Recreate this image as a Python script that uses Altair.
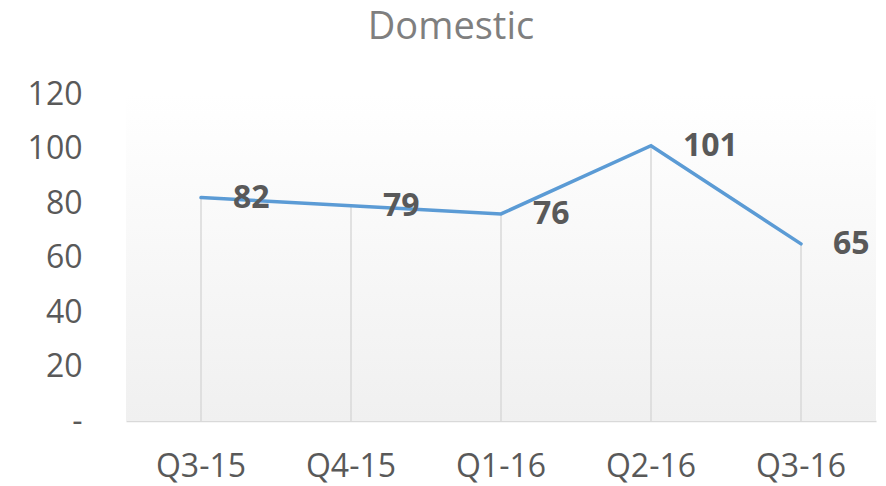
import altair as alt
import pandas as pd

quarters = ["Q3-15", "Q4-15", "Q1-16", "Q2-16", "Q3-16"]
values = [82, 79, 76, 101, 65]

df = pd.DataFrame({"quarter": quarters, "value": values})

FONT = "Open Sans"
x = alt.X("quarter:N", sort=quarters, title=None,
          scale=alt.Scale(paddingInner=0, paddingOuter=0),
          axis=alt.Axis(labelAngle=0, ticks=False, domainColor="#d9d9d9", domainWidth=1.5,
                        labelFont=FONT, labelFontSize=32, labelColor="#595959", labelPadding=30,
                        grid=False))
y = alt.Y("value:Q", title=None,
          scale=alt.Scale(domain=[0, 120], nice=False, zero=True),
          axis=alt.Axis(values=[0, 20, 40, 60, 80, 100, 120], domain=False, ticks=False, grid=False,
                        labelFont=FONT, labelFontSize=32, labelColor="#595959", labelPadding=44,
                        labelExpr="datum.value == 0 ? '-\u00a0\u00a0' : datum.label"))

bg = alt.Chart(pd.DataFrame({"bg": [0]})).mark_rect(
    color=alt.LinearGradient(gradient="linear", x1=0, x2=0, y1=0, y2=1,
                             stops=[alt.GradientStop(offset=0, color="#ffffff"),
                                    alt.GradientStop(offset=1, color="#f0f0f0")])
).encode(x=alt.value(0), x2=alt.value("width"), y=alt.value(0), y2=alt.value("height"))

base = alt.Chart(df)

drops = base.mark_rule(color="#d9d9d9", strokeWidth=1.5).encode(x=x, y=y, y2=alt.datum(0))
line = base.mark_line(color="#5B9BD5", strokeWidth=3.5, strokeCap="round").encode(x=x, y=y)
labels = base.mark_text(align="left", baseline="middle", dx=32, font=FONT, fontSize=32,
                        fontWeight="bold", color="#595959").encode(x=x, y=y, text="value:Q")

chart = alt.layer(bg, drops, line, labels).properties(
    width=750, height=327,
    title=alt.TitleParams("Domestic", font=FONT, fontSize=38, fontWeight="normal", color="#7f7f7f",
                          anchor="middle", frame="group", dx=-50, offset=31),
    padding={"left": 118, "top": 86, "right": 2, "bottom": 64},
    autosize=alt.AutoSizeParams(type="none"),
).configure_view(stroke=None)

chart.save("out.html", embed_options={"renderer": "svg", "actions": False})
